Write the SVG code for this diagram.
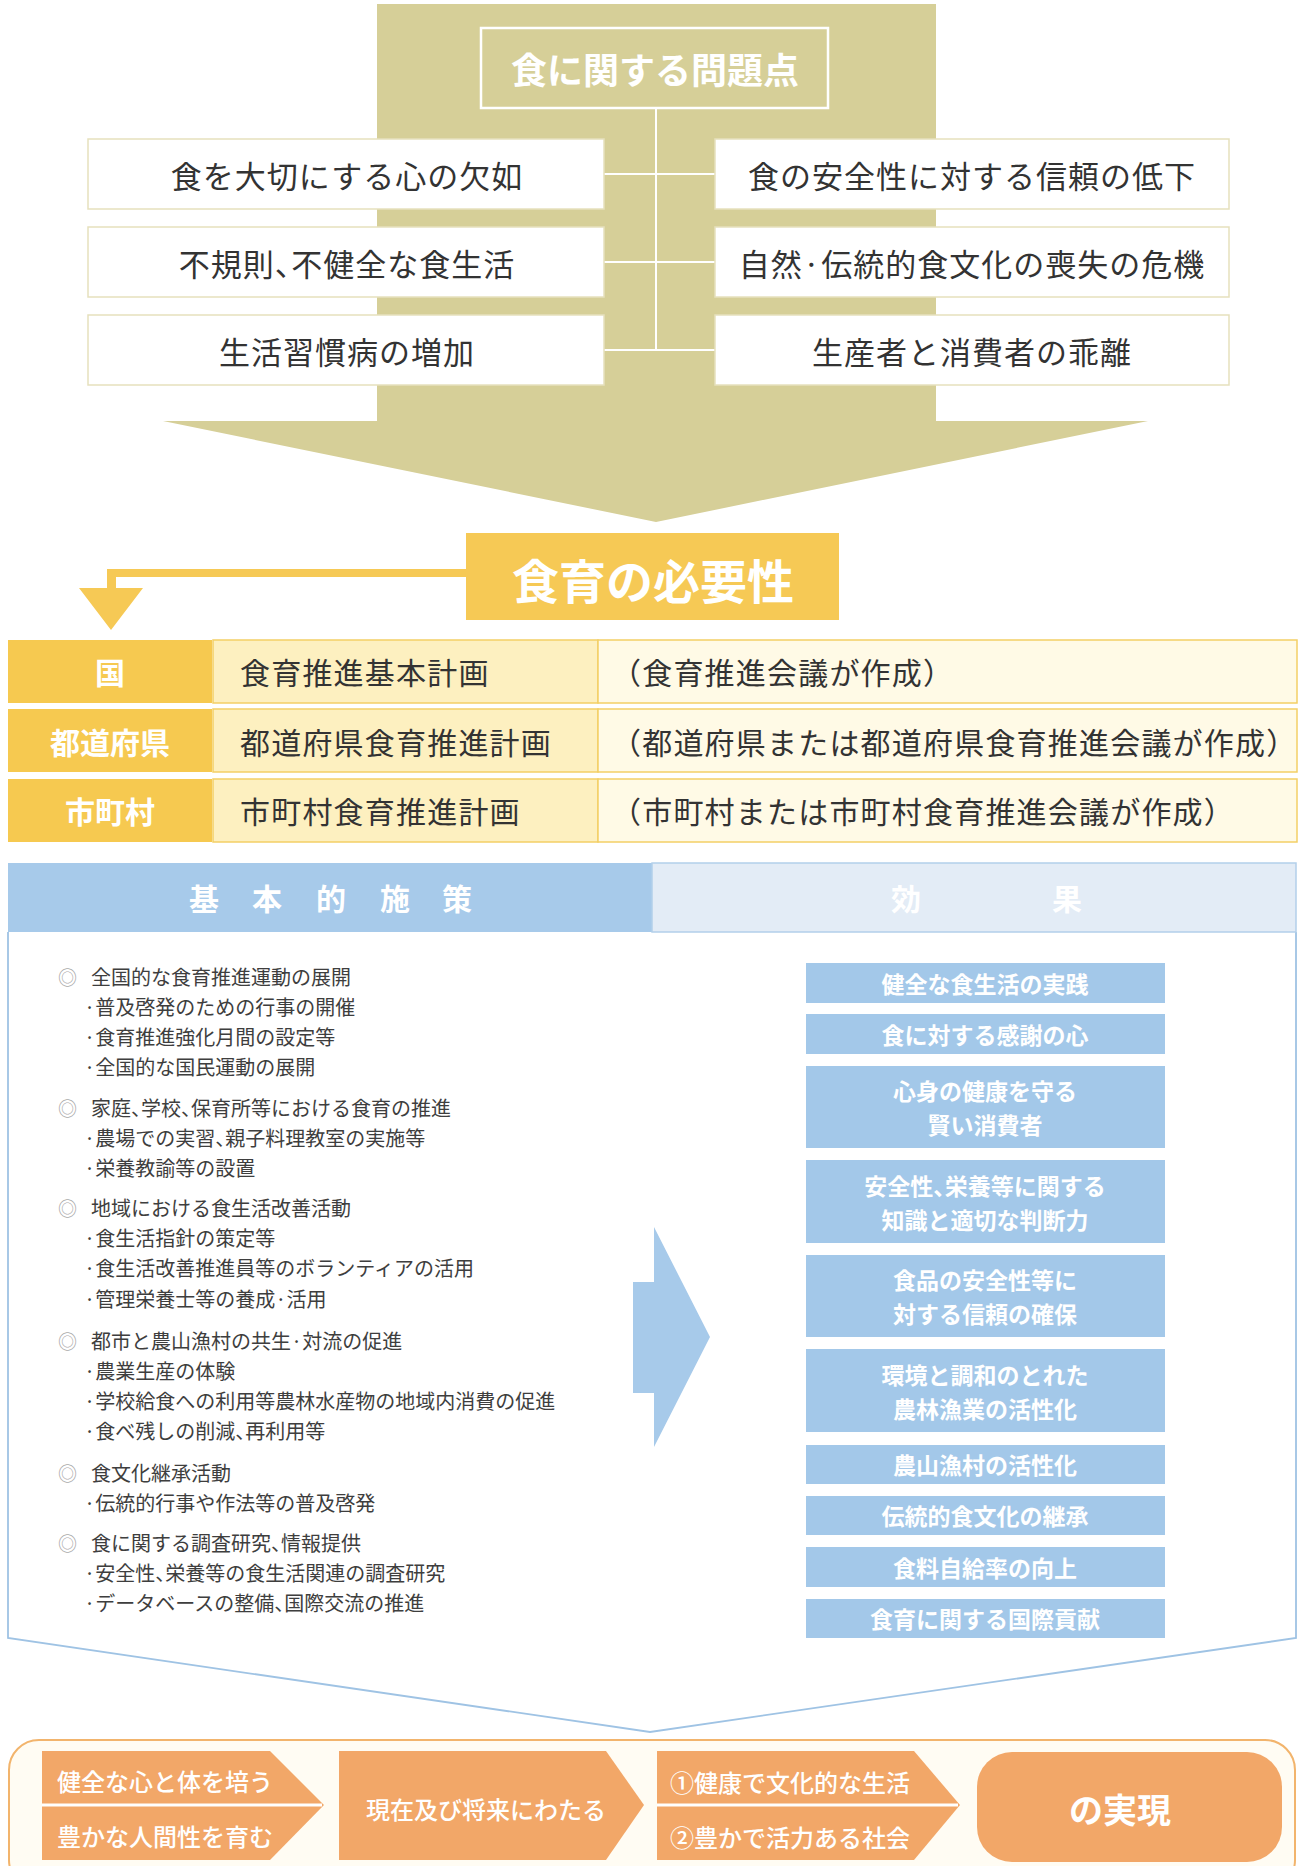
<svg xmlns="http://www.w3.org/2000/svg" width="1300" height="1866" viewBox="0 0 1300 1866">
<style>
text{font-family:"Noto Sans CJK JP","Noto Sans CJK SC",sans-serif;dominant-baseline:central;font-feature-settings:"halt"}
.prob{font-size:31px;fill:#333;text-anchor:middle;letter-spacing:1px}
.pbox{fill:#fff;stroke:#e6e1bd;stroke-width:1.5}
.tc1{fill:#f6c950}
.tc2{fill:#fdf0c0;stroke:#f3cf66;stroke-width:1.5}
.tc3{fill:#fffae6;stroke:#f3cf66;stroke-width:1.5}
.lvl{font-size:30px;font-weight:700;fill:#fff;text-anchor:middle}
.plan{font-size:30px;fill:#333;letter-spacing:1.2px}
.pnote{font-size:30px;fill:#333;letter-spacing:1.2px;font-feature-settings:normal}
.main{font-size:20px;fill:#3e3e3e}
.sub{font-size:20px;fill:#3e3e3e}
.mark{font-size:19px;fill:#aaa}
.eff{fill:#a3c8e9}
.efft{font-size:23px;font-weight:700;fill:#fff;text-anchor:middle}
.org{fill:#f2a768}
.orgt{font-size:24px;font-weight:500;fill:#fff}
</style>

<g id="problems">
  <polygon points="377,4 936,4 936,421 1148,421 656,522 163,421 377,421" fill="#d6cf98"/>
  <rect x="481" y="28" width="347" height="80" fill="none" stroke="#fff" stroke-width="2.5"/>
  <text x="655" y="68" font-size="36" font-weight="700" fill="#fff" text-anchor="middle">食に関する問題点</text>
</g>

<g id="connectors" stroke="#fff" stroke-width="2" fill="none">
  <line x1="656" y1="108" x2="656" y2="350"/>
  <line x1="604" y1="174" x2="715" y2="174"/>
  <line x1="604" y1="262" x2="715" y2="262"/>
  <line x1="604" y1="350" x2="715" y2="350"/>
</g>

<g id="p1"><rect class="pbox" x="88" y="139" width="516" height="70"/><text class="prob" x="347" y="174">食を大切にする心の欠如</text></g>
<g id="p2"><rect class="pbox" x="88" y="227" width="516" height="70"/><text class="prob" x="347" y="262">不規則、不健全な食生活</text></g>
<g id="p3"><rect class="pbox" x="88" y="315" width="516" height="70"/><text class="prob" x="347" y="350">生活習慣病の増加</text></g>
<g id="p4"><rect class="pbox" x="715" y="139" width="514" height="70"/><text class="prob" x="972" y="174">食の安全性に対する信頼の低下</text></g>
<g id="p5"><rect class="pbox" x="715" y="227" width="514" height="70"/><text class="prob" x="972" y="262">自然·伝統的食文化の喪失の危機</text></g>
<g id="p6"><rect class="pbox" x="715" y="315" width="514" height="70"/><text class="prob" x="972" y="350">生産者と消費者の乖離</text></g>

<g id="necessity">
  <rect x="466" y="533" width="373" height="87" fill="#f6c955"/>
  <text x="653" y="578" font-size="47" font-weight="700" fill="#fff" text-anchor="middle">食育の必要性</text>
</g>
<g id="necessity-arrow" fill="#f6c955">
  <polygon points="466,569 466,577 116,577 116,588 143,588 111,630 79,588 107,588 107,569"/>
</g>

<g id="plan-kuni">
  <rect class="tc1" x="8" y="640" width="204" height="63"/>
  <rect class="tc2" x="213" y="640" width="385" height="63"/>
  <rect class="tc3" x="598" y="640" width="699" height="63"/>
  <text class="lvl" x="110" y="671">国</text>
  <text class="plan" x="240" y="671">食育推進基本計画</text>
  <text class="pnote" x="611" y="671">（食育推進会議が作成）</text>
</g>
<g id="plan-pref">
  <rect class="tc1" x="8" y="709" width="204" height="63"/>
  <rect class="tc2" x="213" y="709" width="385" height="63"/>
  <rect class="tc3" x="598" y="709" width="699" height="63"/>
  <text class="lvl" x="110" y="741">都道府県</text>
  <text class="plan" x="240" y="741">都道府県食育推進計画</text>
  <text class="pnote" x="611" y="741">（都道府県または都道府県食育推進会議が作成）</text>
</g>
<g id="plan-city">
  <rect class="tc1" x="8" y="779" width="204" height="63"/>
  <rect class="tc2" x="213" y="779" width="385" height="63"/>
  <rect class="tc3" x="598" y="779" width="699" height="63"/>
  <text class="lvl" x="110" y="810">市町村</text>
  <text class="plan" x="240" y="810">市町村食育推進計画</text>
  <text class="pnote" x="611" y="810">（市町村または市町村食育推進会議が作成）</text>
</g>

<g id="policy-frame">
  <path d="M8,932 L8,1638 L650,1732 L1296,1638 L1296,932" fill="#fff" stroke="#9fc3e4" stroke-width="1.8"/>
  <rect x="8" y="863" width="644" height="69" fill="#a7caea"/>
  <rect x="652" y="863" width="644" height="69" fill="#e3ecf6" stroke="#b3cfea" stroke-width="1.5"/>
  <text x="204 267 331 395 457" y="897" font-size="30" font-weight="700" fill="#fff" text-anchor="middle">基本的施策</text>
  <text x="906 1067" y="897" font-size="30" font-weight="700" fill="#fff" text-anchor="middle">効果</text>
</g>

<g id="policies">
  <text class="mark" x="58" y="976">◎</text><text class="main" x="91" y="976">全国的な食育推進運動の展開</text>
  <text class="sub" x="84" y="1006">·普及啓発のための行事の開催</text>
  <text class="sub" x="84" y="1036">·食育推進強化月間の設定等</text>
  <text class="sub" x="84" y="1066">·全国的な国民運動の展開</text>

  <text class="mark" x="58" y="1107">◎</text><text class="main" x="91" y="1107">家庭、学校、保育所等における食育の推進</text>
  <text class="sub" x="84" y="1137">·農場での実習、親子料理教室の実施等</text>
  <text class="sub" x="84" y="1167">·栄養教諭等の設置</text>

  <text class="mark" x="58" y="1207">◎</text><text class="main" x="91" y="1207">地域における食生活改善活動</text>
  <text class="sub" x="84" y="1237">·食生活指針の策定等</text>
  <text class="sub" x="84" y="1267">·食生活改善推進員等のボランティアの活用</text>
  <text class="sub" x="84" y="1298">·管理栄養士等の養成·活用</text>

  <text class="mark" x="58" y="1340">◎</text><text class="main" x="91" y="1340">都市と農山漁村の共生·対流の促進</text>
  <text class="sub" x="84" y="1370">·農業生産の体験</text>
  <text class="sub" x="84" y="1400">·学校給食への利用等農林水産物の地域内消費の促進</text>
  <text class="sub" x="84" y="1430">·食べ残しの削減、再利用等</text>

  <text class="mark" x="58" y="1472">◎</text><text class="main" x="91" y="1472">食文化継承活動</text>
  <text class="sub" x="84" y="1502">·伝統的行事や作法等の普及啓発</text>

  <text class="mark" x="58" y="1542">◎</text><text class="main" x="91" y="1542">食に関する調査研究、情報提供</text>
  <text class="sub" x="84" y="1572">·安全性、栄養等の食生活関連の調査研究</text>
  <text class="sub" x="84" y="1602">·データベースの整備、国際交流の推進</text>
</g>

<g id="policy-arrow">
  <polygon points="633,1282 654,1282 654,1227 710,1337 654,1447 654,1393 633,1393" fill="#a7caea"/>
</g>

<g id="effects">
  <g id="e1"><rect class="eff" x="806" y="963" width="359" height="40"/><text class="efft" x="985" y="983">健全な食生活の実践</text></g>
  <g id="e2"><rect class="eff" x="806" y="1014" width="359" height="40"/><text class="efft" x="985" y="1034">食に対する感謝の心</text></g>
  <g id="e3"><rect class="eff" x="806" y="1066" width="359" height="82"/><text class="efft" x="985" y="1090">心身の健康を守る</text><text class="efft" x="985" y="1124">賢い消費者</text></g>
  <g id="e4"><rect class="eff" x="806" y="1160" width="359" height="83"/><text class="efft" x="985" y="1185">安全性、栄養等に関する</text><text class="efft" x="985" y="1219">知識と適切な判断力</text></g>
  <g id="e5"><rect class="eff" x="806" y="1255" width="359" height="82"/><text class="efft" x="985" y="1279">食品の安全性等に</text><text class="efft" x="985" y="1313">対する信頼の確保</text></g>
  <g id="e6"><rect class="eff" x="806" y="1349" width="359" height="83"/><text class="efft" x="985" y="1374">環境と調和のとれた</text><text class="efft" x="985" y="1408">農林漁業の活性化</text></g>
  <g id="e7"><rect class="eff" x="806" y="1445" width="359" height="39"/><text class="efft" x="985" y="1464">農山漁村の活性化</text></g>
  <g id="e8"><rect class="eff" x="806" y="1496" width="359" height="39"/><text class="efft" x="985" y="1515">伝統的食文化の継承</text></g>
  <g id="e9"><rect class="eff" x="806" y="1547" width="359" height="40"/><text class="efft" x="985" y="1567">食料自給率の向上</text></g>
  <g id="e10"><rect class="eff" x="806" y="1599" width="359" height="39"/><text class="efft" x="985" y="1618">食育に関する国際貢献</text></g>
</g>

<g id="realization">
  <rect x="9" y="1740" width="1286" height="150" rx="30" fill="#fffcf3" stroke="#f2b46c" stroke-width="2"/>
  <g id="r1">
    <polygon class="org" points="42,1751 270,1751 324,1805 270,1860 42,1860"/>
    <line x1="42" y1="1805" x2="322" y2="1805" stroke="#fff" stroke-width="3"/>
    <text class="orgt" x="57" y="1780">健全な心と体を培う</text>
    <text class="orgt" x="57" y="1835">豊かな人間性を育む</text>
  </g>
  <g id="r2">
    <polygon class="org" points="339,1751 606,1751 644,1805 606,1860 339,1860"/>
    <text class="orgt" x="366" y="1808">現在及び将来にわたる</text>
  </g>
  <g id="r3">
    <polygon class="org" points="657,1751 914,1751 960,1805 914,1860 657,1860"/>
    <line x1="657" y1="1805" x2="958" y2="1805" stroke="#fff" stroke-width="3"/>
    <text class="orgt" x="670" y="1781">①健康で文化的な生活</text>
    <text class="orgt" x="670" y="1836">②豊かで活力ある社会</text>
  </g>
  <g id="r4">
    <rect class="org" x="977" y="1752" width="305" height="110" rx="35"/>
    <text x="1120" y="1808" font-size="34" font-weight="700" fill="#fff" text-anchor="middle">の実現</text>
  </g>
</g>
</svg>
